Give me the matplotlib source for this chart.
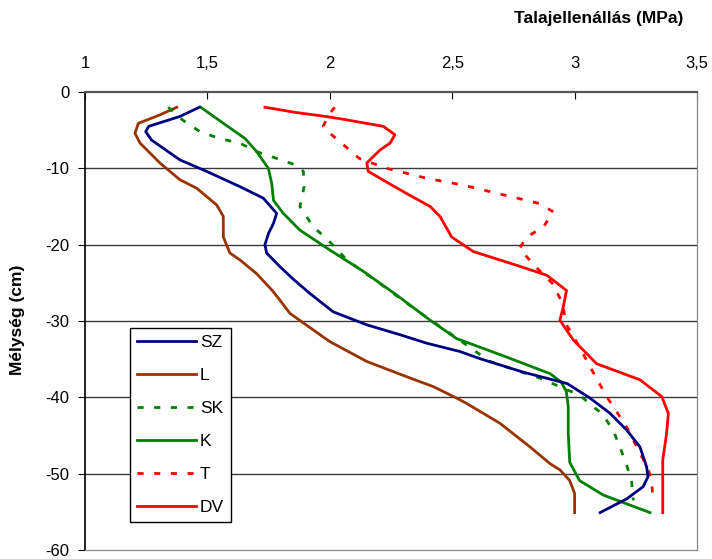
import matplotlib
matplotlib.use("Agg")
import matplotlib.pyplot as plt
from matplotlib.ticker import FuncFormatter

plt.rcParams['font.family'] = ['Liberation Sans', 'DejaVu Sans']
plt.rcParams['axes.unicode_minus'] = False

# ---- data (depth cm, resistance MPa) ----
sz_depth = [-2, -3.2, -4.5, -5.2, -6.3, -8.9, -10.4, -12.4, -13.9, -15.9, -17.2, -18.5, -20, -21.1,
            -22.9, -24.5, -26.4, -28.8, -30.5, -31.8, -32.9, -34.0, -34.9, -36.7, -38.2, -40.1,
            -42.1, -44.3, -46.5, -49.1, -50.4, -51.7, -53.3, -55.1]
sz_val = [1.467, 1.388, 1.26, 1.248, 1.272, 1.388, 1.497, 1.633, 1.728, 1.783, 1.77, 1.75, 1.735, 1.742,
          1.797, 1.85, 1.919, 2.014, 2.151, 2.287, 2.395, 2.532, 2.61, 2.79, 2.97, 3.063,
          3.145, 3.213, 3.267, 3.294, 3.30, 3.28, 3.213, 3.104]

l_depth = [-2, -3, -4.1, -5.4, -6.7, -9.3, -11.5, -12.6, -14.8, -16.3, -19, -21.1, -22, -23.8, -26,
           -27.3, -29, -32.7, -35.3, -37.3, -38.6, -40.1, -40.8, -43.4, -46.5, -48.7, -49.5, -50.9,
           -52.6, -55.1]
l_val = [1.375, 1.306, 1.218, 1.204, 1.225, 1.306, 1.388, 1.456, 1.538, 1.565, 1.565, 1.592, 1.633,
         1.701, 1.765, 1.797, 1.837, 2.0, 2.151, 2.314, 2.423, 2.518, 2.559, 2.695, 2.818, 2.90,
         2.94, 2.98, 3.0, 3.0]

sk_depth = [-2, -3.7, -5.2, -6.1, -6.7, -7.8, -8.7, -9.6, -10.4, -12.4, -15, -17.7, -19.2, -22,
            -25.1, -28.5, -31.6, -35.3, -37.5, -39.7, -42.3, -44.5, -46.5, -48.9, -51.1, -53.5]
sk_val = [1.34, 1.40, 1.47, 1.551, 1.633, 1.70, 1.783, 1.865, 1.892, 1.895, 1.878, 1.933, 1.987,
          2.069, 2.205, 2.35, 2.49, 2.654, 2.859, 3.02, 3.117, 3.16, 3.185, 3.213, 3.233, 3.24]

k_depth = [-2, -4.1, -6.1, -7.8, -10, -12, -14.2, -15.9, -18.1, -20.7, -23.5, -26.6, -29.9, -32.3,
           -34.7, -36.9, -38.0, -39.2, -41.2, -44.7, -48.5, -50.9, -52.8, -55.1]
k_val = [1.473, 1.565, 1.654, 1.701, 1.749, 1.763, 1.77, 1.81, 1.878, 2.0, 2.137, 2.273, 2.41,
         2.518, 2.72, 2.90, 2.945, 2.966, 2.974, 2.974, 2.98, 3.02, 3.117, 3.308]

t_depth = [-2, -3, -4.5, -5.4, -6.9, -8.7, -10, -11.3, -12.2, -13.4, -14.6, -15.7, -17.7, -19,
           -20.5, -22.6, -25.2, -27.7, -30.5, -33.4, -36, -39.9, -43.9, -46.9, -49.1, -50.9, -53.5]
t_val = [2.02, 1.995, 1.973, 2.0, 2.055, 2.12, 2.232, 2.395, 2.545, 2.70, 2.855, 2.913, 2.872,
         2.804, 2.775, 2.832, 2.913, 2.95, 2.967, 3.02, 3.063, 3.131, 3.213, 3.26, 3.297, 3.315, 3.32]

dv_depth = [-2, -2.7, -3.1, -3.5, -4.5, -5.6, -6.7, -7.6, -9.3, -10.4, -11.8, -13.3, -15, -16.3,
            -19, -20.9, -22.7, -24, -26, -28.1, -29.9, -32.5, -35.6, -37.7, -39.9, -42.1, -44.7,
            -48.2, -55.1]
dv_val = [1.735, 1.865, 1.96, 2.042, 2.219, 2.266, 2.246, 2.205, 2.151, 2.157, 2.232, 2.314, 2.41,
          2.45, 2.498, 2.586, 2.763, 2.886, 2.967, 2.954, 2.94, 2.995, 3.09, 3.267, 3.356, 3.383,
          3.376, 3.36, 3.36]

x_ticks = [1, 1.5, 2, 2.5, 3, 3.5]
y_ticks = [0, -10, -20, -30, -40, -50, -60]

W, H = 712, 559
fig = plt.figure(figsize=(W / 100, H / 100), dpi=100)
ax = fig.add_axes([85 / W, 1 - 550 / H, (697 - 85) / W, (550 - 92) / H])

lw = 2.0
ax.plot(sz_val, sz_depth, color='#000080', lw=lw, label='SZ', zorder=4)
ax.plot(l_val, l_depth, color='#993300', lw=lw, label='L', zorder=3)
ax.plot(sk_val, sk_depth, color='#008000', lw=lw, ls=(0, (2.2, 3.8)), label='SK', zorder=3)
ax.plot(k_val, k_depth, color='#008000', lw=lw, label='K', zorder=3)
ax.plot(t_val, t_depth, color='#FF0000', lw=lw, ls=(0, (2.2, 3.8)), label='T', zorder=3)
ax.plot(dv_val, dv_depth, color='#FF0000', lw=lw, label='DV', zorder=3)

ax.set_xlim(1, 3.5)
ax.set_ylim(-60, 0)
ax.set_xticks(x_ticks)
ax.set_yticks(y_ticks)
ax.xaxis.tick_top()
ax.xaxis.set_major_formatter(FuncFormatter(lambda v, p: ('%g' % v).replace('.', ',')))
ax.tick_params(axis='x', direction='in', length=5, pad=15, labelsize=12, color='black')
ax.tick_params(axis='y', direction='out', length=5, pad=6, labelsize=12, color='black')

for yv in [-10, -20, -30, -40, -50]:
    ax.axhline(yv, color='#3a3a3a', lw=1.0, zorder=1)

ax.spines['top'].set_color('#555555')
ax.spines['top'].set_linewidth(1.6)
ax.spines['left'].set_color('black')
ax.spines['left'].set_linewidth(1.2)
ax.spines['right'].set_color('#888888')
ax.spines['right'].set_linewidth(0.9)
ax.spines['bottom'].set_color('#888888')
ax.spines['bottom'].set_linewidth(0.9)

leg = ax.legend(loc='lower left', bbox_to_anchor=(45 / 612, 28 / 458), borderaxespad=0,
                fontsize=12.5, handlelength=3.45, handletextpad=0.2, labelspacing=1.03,
                fancybox=False, framealpha=1, edgecolor='black', borderpad=0.38)
leg.get_frame().set_linewidth(1.0)

fig.text(683 / W, 1 - 18 / H, 'Talajellenállás (MPa)', ha='right', va='center',
         fontsize=12.5, fontweight='bold')
fig.text(18 / W, 1 - 320 / H, 'Mélység (cm)', ha='center', va='center', rotation=90,
         fontsize=12.5, fontweight='bold')

fig.savefig('out.png', dpi=100)
